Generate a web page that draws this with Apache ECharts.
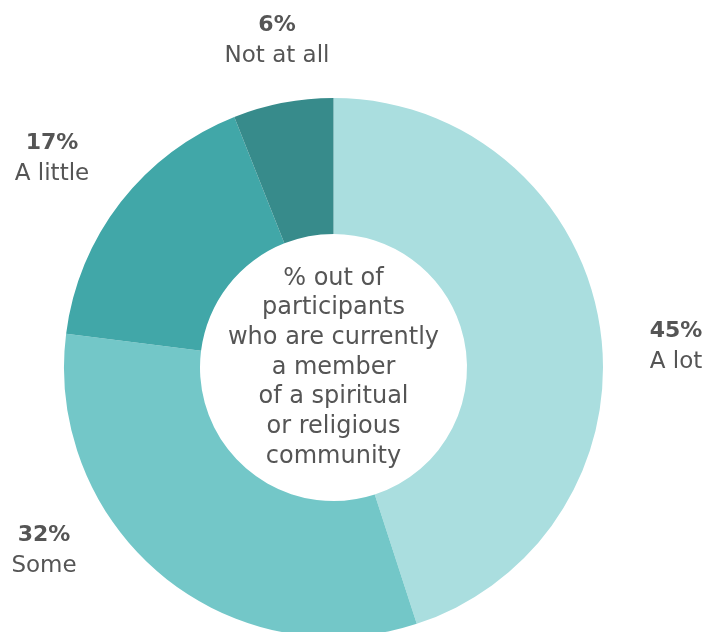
<!DOCTYPE html>
<html>
<head>
<meta charset="utf-8">
<script src="https://cdn.jsdelivr.net/npm/echarts@6/dist/echarts.min.js"></script>
<style>html,body{margin:0;padding:0;background:#fff;}#c{width:709px;height:632px;}</style>
</head>
<body>
<div id="c"></div>
<script>
const categories = ['A lot', 'Some', 'A little', 'Not at all'];
const values = [45, 32, 17, 6];
const colors = ['#aadedf', '#73c7c8', '#41a7a8', '#378b8b'];
const centerTitle = '% out of\nparticipants\nwho are currently\na member\nof a spiritual\nor religious\ncommunity';
const labelAnchors = [[676, 347], [44, 551], [52, 159], [277, 41]];

const chart = echarts.init(document.getElementById('c'), null, {renderer: 'canvas'});
const font = '"DejaVu Sans", sans-serif';
chart.setOption({
  animation: false,
  title: {
    text: centerTitle,
    left: 333.5,
    top: 367.5,
    padding: 0,
    textAlign: 'center',
    textVerticalAlign: 'middle',
    textStyle: {fontFamily: font, fontSize: 24, fontWeight: 'normal', color: '#555555', lineHeight: 29.7}
  },
  series: [{
    type: 'pie',
    center: [333.5, 367.5],
    radius: [133.5, 269.5],
    startAngle: 90,
    clockwise: true,
    silent: true,
    data: categories.map((n, i) => ({name: n, value: values[i], itemStyle: {color: colors[i]}})),
    labelLine: {show: false},
    label: {
      show: true,
      position: 'outside',
      overflow: 'none',
      formatter: '{p|{c}%}\n{n|{b}}',
      rich: {
        p: {fontFamily: font, fontSize: 22, fontWeight: 'bold', color: '#555555', lineHeight: 31, align: 'center'},
        n: {fontFamily: font, fontSize: 23, color: '#555555', lineHeight: 31, align: 'center'}
      }
    },
    labelLayout: function (params) {
      const a = labelAnchors[params.dataIndex];
      return {x: a[0], y: a[1], align: 'center', verticalAlign: 'middle'};
    }
  }]
});
</script>
</body>
</html>
